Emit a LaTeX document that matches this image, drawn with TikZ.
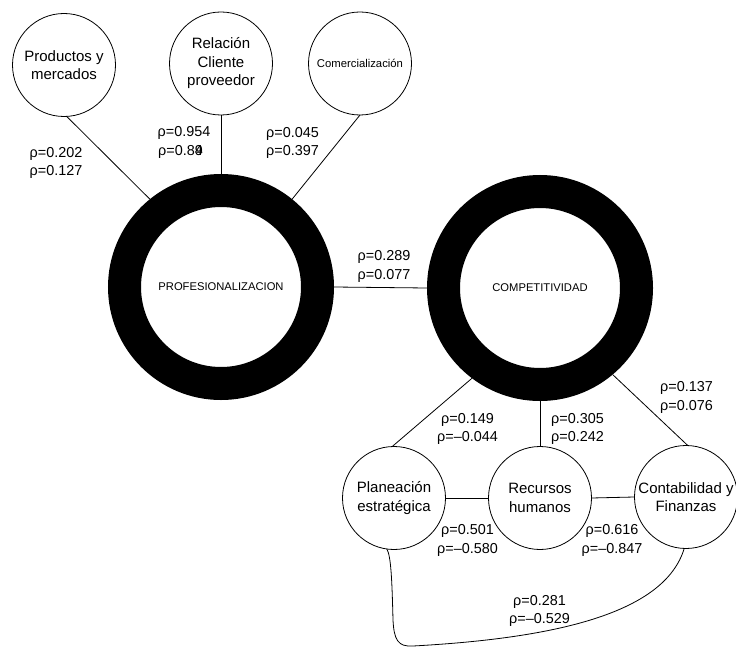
\documentclass[tikz,border=0pt]{standalone}
\usepackage{fontspec}
\setmainfont{Liberation Sans}
\begin{document}
\begin{tikzpicture}[x=1pt,y=-1pt,
  bubble/.style={circle, draw, line width=0.8pt, minimum size=103pt, inner sep=0pt, outer sep=0pt, align=center, font=\fontsize{15}{18.5}\selectfont},
  ring/.style={circle, draw, line width=33pt, minimum size=193pt, inner sep=0pt, outer sep=16.5pt, font=\fontsize{11.2}{13}\selectfont},
  link/.style={line width=0.8pt},
  lab/.style={align=center, inner sep=0pt, font=\fontsize{14.4}{18.5}\selectfont}]
\useasboundingbox (0,0) rectangle (736,647);
% top bubbles
\node[bubble] (prod) at (64,65) {Productos y\\mercados};
\node[bubble] (rel) at (221,63.5) {Relación\\Cliente\\proveedor};
\node[bubble, font=\fontsize{11.3}{13}\selectfont] (com) at (360,63.5) {Comercialización};
% rings
\node[ring] (prof) at (221,287) {PROFESIONALIZACION};
\node[ring] (comp) at (540,288) {COMPETITIVIDAD};
% bottom bubbles
\node[bubble] (plan) at (394,498) {Planeación\\estratégica};
\node[bubble] (rec) at (540,498) {Recursos\\humanos};
\node[bubble] (conta) at (686,497) {Contabilidad y\\Finanzas};
% connectors
\draw[link] (prod.273) -- (prof.129);
\draw[link] (rel.south) -- (prof.north);
\draw[link] (com.south) -- (prof.51);
\draw[link] (prof.east) -- (comp.west);
\draw[link] (comp.233.3) -- (plan.92);
\draw[link] (comp.south) -- (rec.north);
\draw[link] (comp.310.3) -- (conta.88);
\draw[link] (plan.east) -- (rec.west);
\draw[link] (rec.east) -- (conta.west);
\draw[link] (plan.262) .. controls (391,556) and (392,580) .. (393,620)
  .. controls (394,640) and (398,647) .. (413,646)
  .. controls (560,638) and (665,612) .. (conta.268);
% labels
\node[lab] (l1) at (56,163) {ρ=0.202\\ρ=0.127};
\node[lab] (l2) at (184,133.3) {ρ=0.954};
\node[lab, anchor=west] (l2b) at (158,151.5) {ρ=0.8\rlap{9}4};
\node[lab] (l3) at (292.5,143) {ρ=0.045\\ρ=0.397};
\node[lab] (l4) at (384,266.5) {ρ=0.289\\ρ=0.077};
\node[lab] (l5) at (467.5,429) {ρ=0.149\\ρ=–0.044};
\node[lab] (l6) at (577.5,429) {ρ=0.305\\ρ=0.242};
\node[lab] (l7) at (686.5,397.5) {ρ=0.137\\ρ=0.076};
\node[lab] (l8) at (467.5,540.5) {ρ=0.501\\ρ=–0.580};
\node[lab] (l9) at (612,540.5) {ρ=0.616\\ρ=–0.847};
\node[lab] (l10) at (539.5,611) {ρ=0.281\\ρ=–0.529};
\end{tikzpicture}
\end{document}
